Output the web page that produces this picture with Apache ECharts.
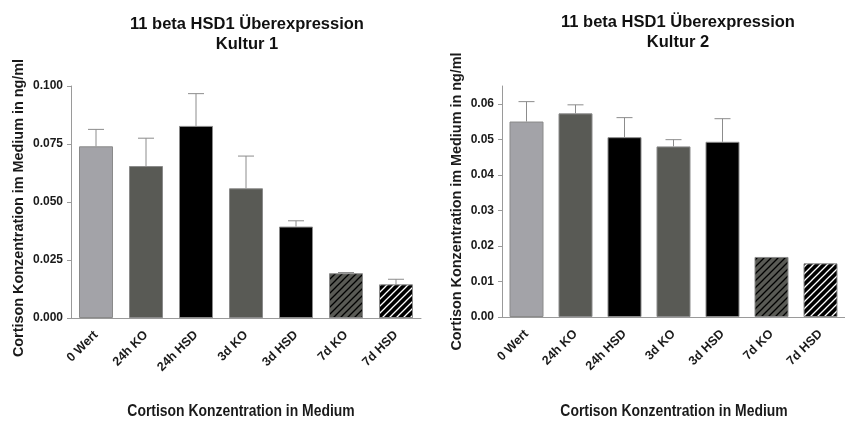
<!DOCTYPE html>
<html>
<head>
<meta charset="utf-8">
<script src="https://cdn.jsdelivr.net/npm/echarts@6/dist/echarts.min.js"></script>
<style>
  html, body { margin: 0; padding: 0; background: #fff; }
  #chart { width: 845px; height: 421px; }
</style>
</head>
<body>
<div id="chart"></div>
<script>
// Sample groups (x axis)
const categories = ['0 Wert', '24h KO', '24h HSD', '3d KO', '3d HSD', '7d KO', '7d HSD'];

// Kultur 1: mean cortisone concentration (ng/ml) and upper error (SEM)
const kultur1Mean = [0.0740, 0.0655, 0.0828, 0.0559, 0.0394, 0.0193, 0.0145];
const kultur1Err  = [0.0073, 0.0120, 0.0139, 0.0139, 0.0025, 0.0003, 0.0022];

// Kultur 2: mean cortisone concentration (ng/ml) and upper error (SEM)
const kultur2Mean = [0.0550, 0.0573, 0.0506, 0.0480, 0.0493, 0.0169, 0.0151];
const kultur2Err  = [0.0056, 0.0024, 0.0055, 0.0019, 0.0065, 0, 0];

// Y axis tick values
const ticks1 = [0, 0.025, 0.05, 0.075, 0.1];
const ticks2 = [0, 0.01, 0.02, 0.03, 0.04, 0.05, 0.06];

const titleText = '11 beta HSD1 Überexpression';
const yName = 'Cortison Konzentration im Medium in ng/ml';
const xName = 'Cortison Konzentration in Medium';

// Diagonal hatch tile for the 7-day groups
function hatch(bg, fg) {
  const s = 7;
  const c = document.createElement('canvas');
  c.width = s; c.height = s;
  const g = c.getContext('2d');
  g.fillStyle = bg;
  g.fillRect(0, 0, s, s);
  g.strokeStyle = fg;
  g.lineWidth = 1.3;
  g.beginPath();
  g.moveTo(-1, s + 1); g.lineTo(s + 1, -1);
  g.moveTo(-1, 1); g.lineTo(1, -1);
  g.moveTo(s - 1, s + 1); g.lineTo(s + 1, s - 1);
  g.stroke();
  return { image: c, repeat: 'repeat' };
}

const fills = [
  '#a3a3a8',
  '#595a55',
  '#000000',
  '#595a55',
  '#000000',
  hatch('#595a55', '#000000'),
  hatch('#000000', '#ffffff')
];

function barData(values) {
  return values.map((v, i) => ({
    value: v,
    itemStyle: { color: fills[i], borderColor: '#8a8a8a', borderWidth: 1 }
  }));
}

function errData(means, errs) {
  return means.map((m, i) => [i, m, errs[i]]);
}

function renderErr(params, api) {
  const e = api.value(2);
  if (!e) return null;
  const base = api.coord([api.value(0), api.value(1)]);
  const top = api.coord([api.value(0), api.value(1) + e]);
  const half = 8;
  const style = { stroke: '#8c8c8c', lineWidth: 1 };
  return {
    type: 'group',
    children: [
      { type: 'line', shape: { x1: base[0], y1: base[1], x2: top[0], y2: top[1] }, style },
      { type: 'line', shape: { x1: top[0] - half, y1: top[1], x2: top[0] + half, y2: top[1] }, style }
    ]
  };
}

const axisColor = '#9a9a9a';
const sans = 'Liberation Sans, Arial, sans-serif';
const labelFont = { fontFamily: sans, fontWeight: 'bold', color: '#1a1a1a' };

function xAxis(gridIndex) {
  return {
    type: 'category',
    gridIndex,
    data: categories,
    boundaryGap: true,
    axisLine: { lineStyle: { color: axisColor, width: 1 } },
    axisTick: { alignWithLabel: true, length: 4, lineStyle: { color: axisColor } },
    axisLabel: Object.assign({ rotate: 45, fontSize: 12.5, margin: 15, interval: 0 }, labelFont)
  };
}

function yAxis(gridIndex, max, interval, tickVals, digits, gap, shift) {
  return {
    type: 'value',
    gridIndex,
    min: 0,
    max,
    interval,
    splitLine: { show: false },
    axisLine: { show: true, lineStyle: { color: axisColor, width: 1 } },
    axisTick: { show: true, length: 4, lineStyle: { color: axisColor }, customValues: tickVals },
    axisLabel: Object.assign({
      fontSize: 12, margin: 8, customValues: tickVals,
      formatter: v => v.toFixed(digits)
    }, labelFont),
    name: yName,
    nameLocation: 'middle',
    nameRotate: 90,
    nameGap: gap,
    nameTextStyle: {
      fontFamily: sans, fontWeight: 'bold', fontSize: 14.4, color: '#1a1a1a',
      padding: [0, shift, 0, 0]
    }
  };
}

// Condensed x-axis title under each panel
function xTitle(cx) {
  return {
    type: 'text',
    x: cx, y: 412,
    scaleX: 0.87,
    style: {
      text: xName, fontFamily: sans, fontWeight: 'bold', fontSize: 16,
      fill: '#1a1a1a', align: 'center', verticalAlign: 'middle'
    }
  };
}

const chart = echarts.init(document.getElementById('chart'), null, { renderer: 'canvas' });

const titleStyle = { fontFamily: sans, fontWeight: 'bold', fontSize: 16.5, lineHeight: 20, color: '#111' };

chart.setOption({
  animation: false,
  backgroundColor: '#ffffff',
  title: [
    { text: titleText + '\nKultur 1', left: 242, top: 9, textAlign: 'center', textStyle: titleStyle },
    { text: titleText + '\nKultur 2', left: 673, top: 7, textAlign: 'center', textStyle: titleStyle }
  ],
  graphic: [xTitle(241), xTitle(674)],
  grid: [
    { left: 71, top: 86, width: 350, height: 232 },
    { left: 502, top: 86, width: 350, height: 231 }
  ],
  xAxis: [xAxis(0), xAxis(1)],
  yAxis: [
    yAxis(0, 0.1, 0.025, ticks1, 3, 45, 12),
    yAxis(1, 0.065, 0.01, ticks2, 2, 38, 0)
  ],
  series: [
    { type: 'bar', xAxisIndex: 0, yAxisIndex: 0, barWidth: 34, data: barData(kultur1Mean) },
    { type: 'custom', xAxisIndex: 0, yAxisIndex: 0, renderItem: renderErr, data: errData(kultur1Mean, kultur1Err), z: 3 },
    { type: 'bar', xAxisIndex: 1, yAxisIndex: 1, barWidth: 34, data: barData(kultur2Mean) },
    { type: 'custom', xAxisIndex: 1, yAxisIndex: 1, renderItem: renderErr, data: errData(kultur2Mean, kultur2Err), z: 3 }
  ]
});
</script>
</body>
</html>
